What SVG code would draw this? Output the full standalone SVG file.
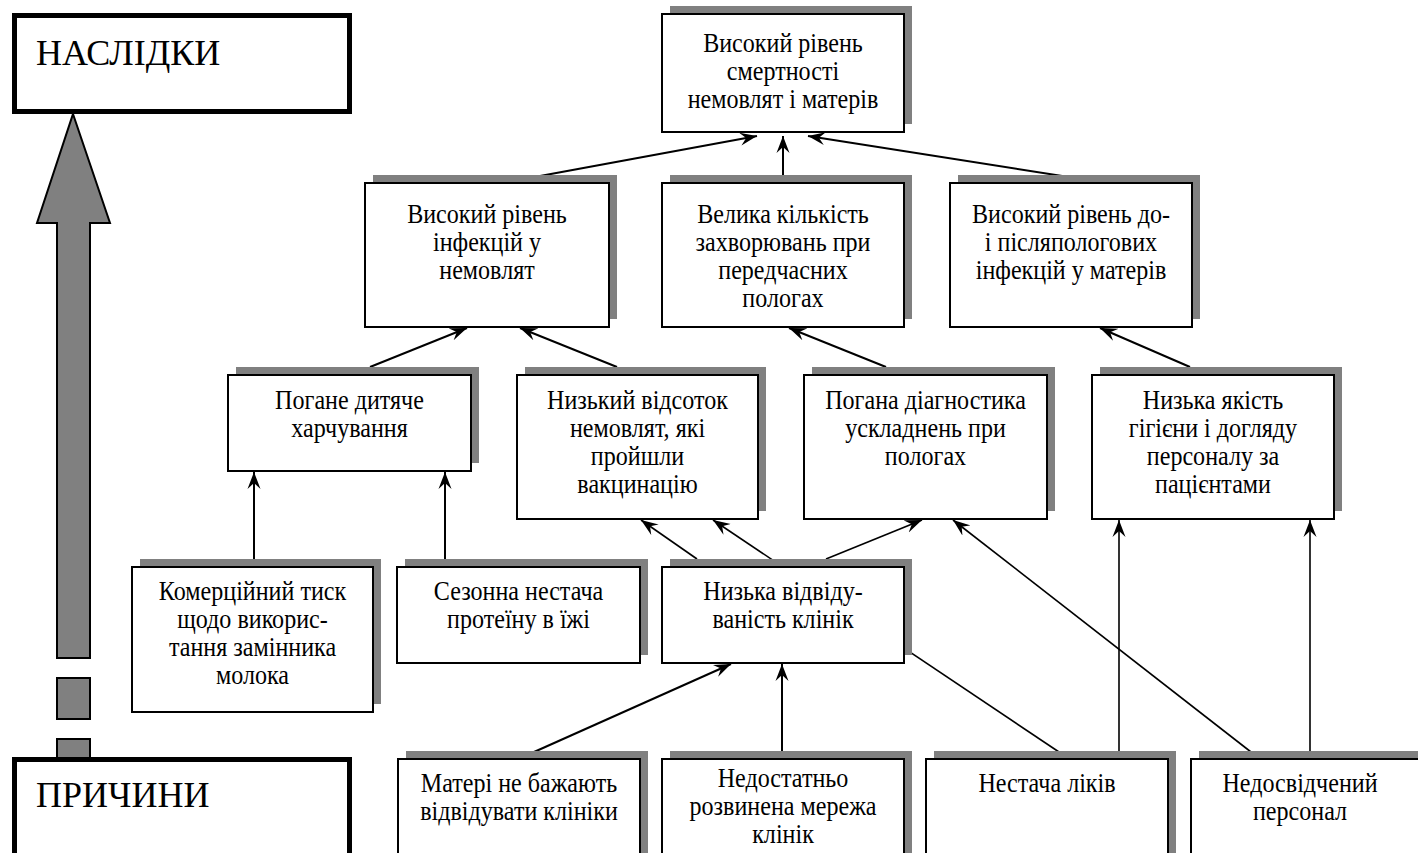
<svg xmlns="http://www.w3.org/2000/svg" width="1418" height="853" viewBox="0 0 1418 853">
<style>
.sh{fill:#808080;stroke:none}
.bx{fill:#fff;stroke:#000;stroke-width:2}
.big{fill:#fff;stroke:#000;stroke-width:5}
.t{font-family:"Liberation Serif","Times New Roman","DejaVu Serif",serif;font-size:28px;fill:#000;text-anchor:middle}
.tb{font-family:"Liberation Serif","Times New Roman","DejaVu Serif",serif;font-size:36px;fill:#000}
.c{stroke:#000;stroke-width:2;fill:none}
.c2{stroke:#000;stroke-width:1.6;fill:none}
.ga{fill:#808080;stroke:#000;stroke-width:2}
</style>
<defs>
<marker id="ah" viewBox="-17 -7 18 14" refX="0" refY="0" markerWidth="18" markerHeight="14" orient="auto" markerUnits="userSpaceOnUse">
<path d="M0,0 L-17,-6.5 L-11,0 L-17,6.5 Z" fill="#000"/>
</marker>
</defs>
<rect width="1418" height="853" fill="#fff"/>

<g id="connectors">
<line class="c" x1="540" y1="176" x2="757" y2="136" marker-end="url(#ah)"/>
<line class="c" x1="783" y1="176" x2="783" y2="136" marker-end="url(#ah)"/>
<line class="c" x1="1075" y1="178" x2="808" y2="136" marker-end="url(#ah)"/>
<line class="c" x1="370" y1="367" x2="467" y2="328" marker-end="url(#ah)"/>
<line class="c" x1="617" y1="367" x2="520" y2="328" marker-end="url(#ah)"/>
<line class="c" x1="886" y1="367" x2="789" y2="328" marker-end="url(#ah)"/>
<line class="c" x1="1190" y1="367" x2="1100" y2="328" marker-end="url(#ah)"/>
<line class="c" x1="254" y1="559" x2="254" y2="472" marker-end="url(#ah)"/>
<line class="c" x1="445" y1="559" x2="445" y2="472" marker-end="url(#ah)"/>
<line class="c2" x1="697" y1="559" x2="641" y2="520" marker-end="url(#ah)"/>
<line class="c2" x1="826" y1="559" x2="922" y2="520" marker-end="url(#ah)"/>
<line class="c2" x1="1059" y1="752" x2="713" y2="520" marker-end="url(#ah)"/>
<line class="c2" x1="1251" y1="752" x2="953" y2="520" marker-end="url(#ah)"/>
<line class="c2" x1="1119" y1="752" x2="1119" y2="520" marker-end="url(#ah)"/>
<line class="c2" x1="1310" y1="752" x2="1310" y2="520" marker-end="url(#ah)"/>
<line class="c" x1="534" y1="752" x2="731" y2="664" marker-end="url(#ah)"/>
<line class="c" x1="782" y1="752" x2="782" y2="664" marker-end="url(#ah)"/>
</g>

<g id="big-arrow">
<polygon class="ga" points="73,114 110,223 90,223 90,658 57,658 57,223 37,223"/>
<rect class="ga" x="57" y="678" width="33" height="41"/>
<rect class="ga" x="57" y="739" width="33" height="24"/>
</g>

<g id="naslidky">
<rect class="big" x="14.5" y="15.5" width="335" height="96"/>
<text class="tb" x="36" y="65">НАСЛІДКИ</text>
</g>
<g id="prychyny">
<rect class="big" x="14.5" y="759.5" width="335" height="120"/>
<text class="tb" x="36" y="807">ПРИЧИНИ</text>
</g>

<g id="node-top">
<rect class="sh" x="670" y="6" width="242" height="118"/>
<rect class="bx" x="662" y="14" width="242" height="118"/>
<g transform="translate(783,0) scale(0.86,1)">
<text class="t" x="0" y="52">Високий рівень</text>
<text class="t" x="0" y="80">смертності</text>
<text class="t" x="0" y="108">немовлят і матерів</text>
</g>
</g>

<g id="node-a">
<rect class="sh" x="373" y="175" width="244" height="144"/>
<rect class="bx" x="365" y="183" width="244" height="144"/>
<g transform="translate(487,0) scale(0.86,1)">
<text class="t" x="0" y="223">Високий рівень</text>
<text class="t" x="0" y="251">інфекцій у</text>
<text class="t" x="0" y="279">немовлят</text>
</g>
</g>
<g id="node-b">
<rect class="sh" x="670" y="175" width="242" height="144"/>
<rect class="bx" x="662" y="183" width="242" height="144"/>
<g transform="translate(783,0) scale(0.86,1)">
<text class="t" x="0" y="223">Велика кількість</text>
<text class="t" x="0" y="251">захворювань при</text>
<text class="t" x="0" y="279">передчасних</text>
<text class="t" x="0" y="307">пологах</text>
</g>
</g>
<g id="node-c">
<rect class="sh" x="958" y="175" width="242" height="144"/>
<rect class="bx" x="950" y="183" width="242" height="144"/>
<g transform="translate(1071,0) scale(0.86,1)">
<text class="t" x="0" y="223">Високий рівень до-</text>
<text class="t" x="0" y="251">і післяпологових</text>
<text class="t" x="0" y="279">інфекцій у матерів</text>
</g>
</g>

<g id="node-d">
<rect class="sh" x="236" y="367" width="243" height="96"/>
<rect class="bx" x="228" y="375" width="243" height="96"/>
<g transform="translate(349.5,0) scale(0.86,1)">
<text class="t" x="0" y="409">Погане дитяче</text>
<text class="t" x="0" y="437">харчування</text>
</g>
</g>
<g id="node-e">
<rect class="sh" x="525" y="367" width="241" height="144"/>
<rect class="bx" x="517" y="375" width="241" height="144"/>
<g transform="translate(637.5,0) scale(0.86,1)">
<text class="t" x="0" y="409">Низький відсоток</text>
<text class="t" x="0" y="437">немовлят, які</text>
<text class="t" x="0" y="465">пройшли</text>
<text class="t" x="0" y="493">вакцинацію</text>
</g>
</g>
<g id="node-f">
<rect class="sh" x="812" y="367" width="243" height="144"/>
<rect class="bx" x="804" y="375" width="243" height="144"/>
<g transform="translate(925.5,0) scale(0.86,1)">
<text class="t" x="0" y="409">Погана діагностика</text>
<text class="t" x="0" y="437">ускладнень при</text>
<text class="t" x="0" y="465">пологах</text>
</g>
</g>
<g id="node-g">
<rect class="sh" x="1100" y="367" width="242" height="144"/>
<rect class="bx" x="1092" y="375" width="242" height="144"/>
<g transform="translate(1213,0) scale(0.86,1)">
<text class="t" x="0" y="409">Низька якість</text>
<text class="t" x="0" y="437">гігієни і догляду</text>
<text class="t" x="0" y="465">персоналу за</text>
<text class="t" x="0" y="493">пацієнтами</text>
</g>
</g>

<g id="node-h">
<rect class="sh" x="140" y="559" width="241" height="145"/>
<rect class="bx" x="132" y="567" width="241" height="145"/>
<g transform="translate(252.5,0) scale(0.86,1)">
<text class="t" x="0" y="600">Комерційний тиск</text>
<text class="t" x="0" y="628">щодо викорис-</text>
<text class="t" x="0" y="656">тання замінника</text>
<text class="t" x="0" y="684">молока</text>
</g>
</g>
<g id="node-i">
<rect class="sh" x="405" y="559" width="243" height="96"/>
<rect class="bx" x="397" y="567" width="243" height="96"/>
<g transform="translate(518.5,0) scale(0.86,1)">
<text class="t" x="0" y="600">Сезонна нестача</text>
<text class="t" x="0" y="628">протеїну в їжі</text>
</g>
</g>
<g id="node-j">
<rect class="sh" x="670" y="559" width="242" height="96"/>
<rect class="bx" x="662" y="567" width="242" height="96"/>
<g transform="translate(783,0) scale(0.86,1)">
<text class="t" x="0" y="600">Низька відвіду-</text>
<text class="t" x="0" y="628">ваність клінік</text>
</g>
</g>

<g id="node-k">
<rect class="sh" x="406" y="751" width="242" height="120"/>
<rect class="bx" x="398" y="759" width="242" height="120"/>
<g transform="translate(519,0) scale(0.86,1)">
<text class="t" x="0" y="792">Матері не бажають</text>
<text class="t" x="0" y="820">відвідувати клініки</text>
</g>
</g>
<g id="node-l">
<rect class="sh" x="670" y="751" width="242" height="120"/>
<rect class="bx" x="662" y="759" width="242" height="120"/>
<g transform="translate(783,0) scale(0.86,1)">
<text class="t" x="0" y="787">Недостатньо</text>
<text class="t" x="0" y="815">розвинена мережа</text>
<text class="t" x="0" y="843">клінік</text>
</g>
</g>
<g id="node-m">
<rect class="sh" x="934" y="751" width="242" height="120"/>
<rect class="bx" x="926" y="759" width="242" height="120"/>
<g transform="translate(1047,0) scale(0.86,1)">
<text class="t" x="0" y="792">Нестача ліків</text>
</g>
</g>
<g id="node-n">
<rect class="sh" x="1199" y="751" width="242" height="120"/>
<rect class="bx" x="1191" y="759" width="242" height="120"/>
<g transform="translate(1300,0) scale(0.86,1)">
<text class="t" x="0" y="792">Недосвідчений</text>
<text class="t" x="0" y="820">персонал</text>
</g>
</g>
</svg>
